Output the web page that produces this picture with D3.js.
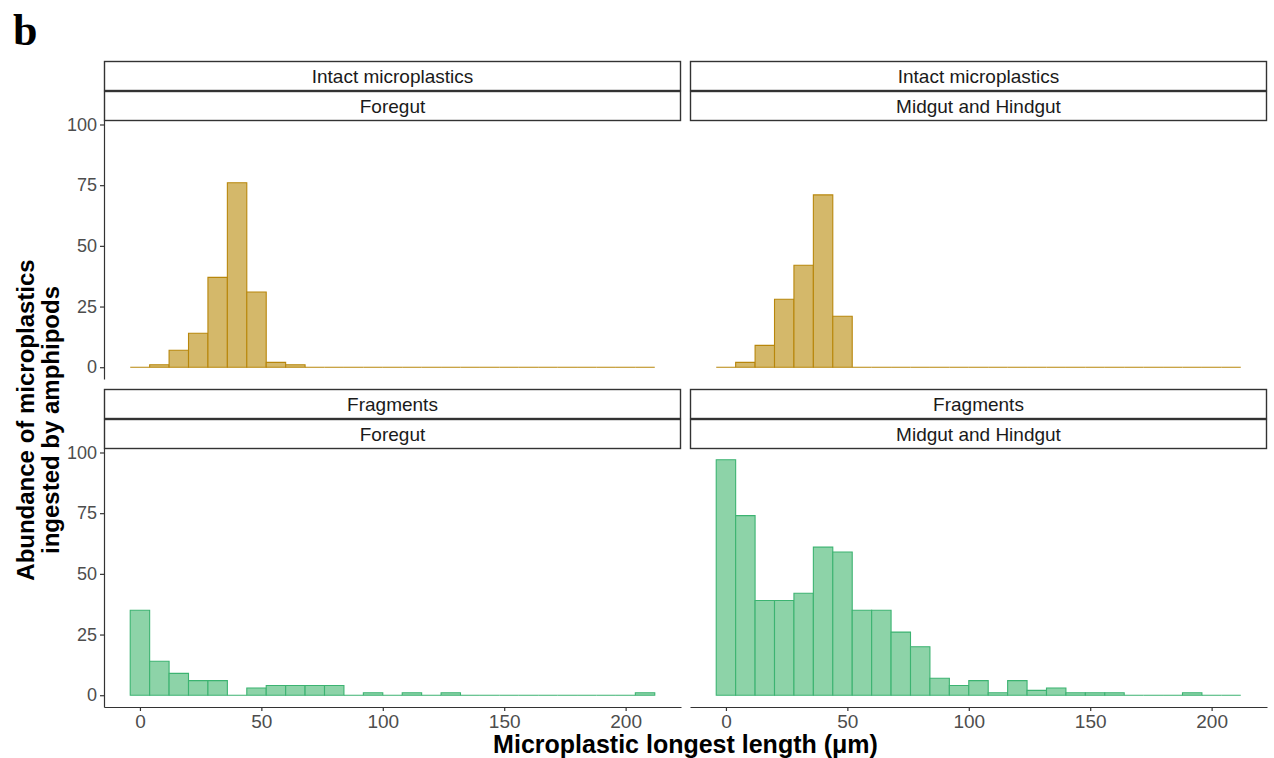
<!DOCTYPE html>
<html>
<head>
<meta charset="utf-8">
<script src="https://cdn.jsdelivr.net/npm/d3@7"></script>
<style>
  html, body { margin: 0; padding: 0; background: #fff; }
  svg { display: block; font-family: "Liberation Sans", Arial, sans-serif; }
</style>
</head>
<body>
<div id="chart"></div>
<script>
// bin centres (um), bin width 8
const binCenters = [0, 8, 16, 24, 32, 40, 48, 56, 64, 72, 80, 88, 96, 104, 112,
  120, 128, 136, 144, 152, 160, 168, 176, 184, 192, 200, 208];
const binWidth = 8;

const intactForegut = [0, 1, 7, 14, 37, 76, 31, 2, 1, 0, 0, 0, 0, 0, 0, 0, 0, 0, 0, 0, 0, 0, 0, 0, 0, 0, 0];
const intactMidHind = [0, 2, 9, 28, 42, 71, 21, 0, 0, 0, 0, 0, 0, 0, 0, 0, 0, 0, 0, 0, 0, 0, 0, 0, 0, 0, 0];
const fragForegut = [35, 14, 9, 6, 6, 0, 3, 4, 4, 4, 4, 0, 1, 0, 1, 0, 1, 0, 0, 0, 0, 0, 0, 0, 0, 0, 1];
const fragMidHind = [97, 74, 39, 39, 42, 61, 59, 35, 35, 26, 20, 7, 4, 6, 1, 6, 2, 3, 1, 1, 1, 0, 0, 0, 1, 0, 0];

const xTicks = [0, 50, 100, 150, 200];
const yTicks = [0, 25, 50, 75, 100];

const panels = [
  { type: 'Intact microplastics', gut: 'Foregut', counts: intactForegut, row: 0, col: 0, kind: 'intact' },
  { type: 'Intact microplastics', gut: 'Midgut and Hindgut', counts: intactMidHind, row: 0, col: 1, kind: 'intact' },
  { type: 'Fragments', gut: 'Foregut', counts: fragForegut, row: 1, col: 0, kind: 'frag' },
  { type: 'Fragments', gut: 'Midgut and Hindgut', counts: fragMidHind, row: 1, col: 1, kind: 'frag' }
];

const colors = {
  intact: { fill: '#d4b86a', stroke: '#b8860b' },
  frag: { fill: '#8dd3a8', stroke: '#3cb371' }
};

const W = 1274, H = 758;
const colX = [104, 690];
const rowY = [120, 448];
const panelW = 577;
const panelH = 259;
const stripH = 29;

const svg = d3.select('#chart').append('svg')
  .attr('width', W)
  .attr('height', H);

// ggplot-style 5% expansion
const xLo = binCenters[0] - binWidth / 2;
const xHi = binCenters[binCenters.length - 1] + binWidth / 2;
const xPad = (xHi - xLo) * 0.05;
const x = d3.scaleLinear().domain([xLo - xPad, xHi + xPad]).range([0, panelW]);

const yMax = d3.max(panels, p => d3.max(p.counts));
const y = d3.scaleLinear().domain([-yMax * 0.05, yMax * 1.05]).range([panelH, 0]);

panels.forEach(p => {
  const g = svg.append('g')
    .attr('transform', `translate(${colX[p.col]},${rowY[p.row]})`);

  // bars (zero bins drawn as flat lines like geom_histogram)
  g.selectAll('.bar')
    .data(p.counts.map((c, i) => ({ c, mid: binCenters[i] })))
    .enter()
    .append('path')
    .attr('class', 'bar')
    .attr('d', d => {
      const x0 = x(d.mid - binWidth / 2), x1 = x(d.mid + binWidth / 2);
      return `M${x0},${y(0)}H${x1}V${y(d.c)}H${x0}Z`;
    })
    .attr('fill', colors[p.kind].fill)
    .attr('stroke', colors[p.kind].stroke)
    .attr('stroke-width', 1.1);

  // strips
  const strips = [p.type, p.gut];
  strips.forEach((label, k) => {
    const sy = -stripH * (2 - k) - 1 + k;
    g.append('rect')
      .attr('x', 0.5)
      .attr('y', sy + 0.5)
      .attr('width', panelW - 1)
      .attr('height', stripH)
      .attr('fill', '#fff')
      .attr('stroke', '#333')
      .attr('stroke-width', 1.4);
    g.append('text')
      .attr('x', panelW / 2)
      .attr('y', sy + stripH / 2 + 1)
      .attr('dy', '0.35em')
      .attr('text-anchor', 'middle')
      .attr('fill', '#1a1a1a')
      .attr('font-size', '19px')
      .text(label);
  });

  if (p.col === 0) {
    const ya = g.append('g')
      .call(d3.axisLeft(y).tickValues(yTicks).tickSize(4).tickSizeOuter(0).tickPadding(3));
    ya.select('.domain').attr('stroke', '#333').attr('stroke-width', 1.2);
    ya.selectAll('.tick line').attr('stroke', '#333').attr('stroke-width', 1.2);
    ya.selectAll('text').attr('fill', '#4d4d4d').attr('font-size', '18px')
      .attr('font-family', '"Liberation Sans", Arial, sans-serif');
  }
  if (p.row === 1) {
    const xa = g.append('g')
      .attr('transform', `translate(0,${panelH})`)
      .call(d3.axisBottom(x).tickValues(xTicks).tickSize(4).tickSizeOuter(0).tickPadding(4));
    xa.select('.domain').attr('stroke', '#333').attr('stroke-width', 1.2);
    xa.selectAll('.tick line').attr('stroke', '#333').attr('stroke-width', 1.2);
    xa.selectAll('text').attr('fill', '#4d4d4d').attr('font-size', '19px')
      .attr('font-family', '"Liberation Sans", Arial, sans-serif');
  }
});

// axis titles
svg.append('text')
  .attr('x', (colX[0] + colX[1] + panelW) / 2)
  .attr('y', 753)
  .attr('text-anchor', 'middle')
  .attr('font-size', '25px')
  .attr('font-weight', 'bold')
  .attr('fill', '#000')
  .text('Microplastic longest length (μm)');

const yTitle = svg.append('text')
  .attr('transform', `translate(0,420) rotate(-90)`)
  .attr('text-anchor', 'middle')
  .attr('font-size', '24px')
  .attr('font-weight', 'bold')
  .attr('fill', '#000');
yTitle.append('tspan').attr('x', 0).attr('y', 34).text('Abundance of microplastics');
yTitle.append('tspan').attr('x', 0).attr('y', 59).text('ingested by amphipods');

// panel tag
svg.append('text')
  .attr('x', 13)
  .attr('y', 45)
  .attr('font-family', '"Liberation Serif", "DejaVu Serif", serif')
  .attr('font-weight', 'bold')
  .attr('font-size', '44px')
  .attr('fill', '#000')
  .text('b');
</script>
</body>
</html>
